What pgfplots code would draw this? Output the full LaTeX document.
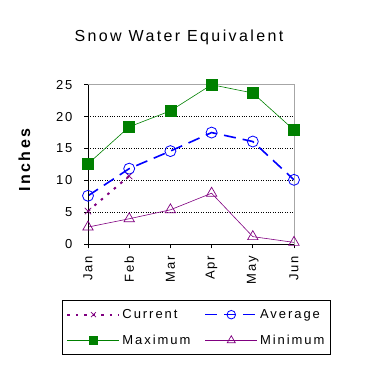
\documentclass[border=0pt]{standalone}
\usepackage{fontspec}
\setmainfont{Liberation Sans}[LetterSpace=15]
\usepackage{pgfplots}
\pgfplotsset{compat=1.18}
\definecolor{cgreen}{HTML}{008000}
\definecolor{cblue}{HTML}{0000FF}
\definecolor{cpurple}{HTML}{800080}
\begin{document}
\begin{tikzpicture}[x=1pt,y=1pt]
\useasboundingbox (0,0) rectangle (366,366);
\node[anchor=base,font=\fontsize{16}{18}\selectfont] at (179,324) {Snow Water Equivalent};
\node[anchor=base,rotate=90,font=\fontsize{16}{18}\selectfont\bfseries] at (30,206) {Inches};
\begin{axis}[
  at={(88pt,121.7pt)}, anchor=south west,
  scale only axis, width=206pt, height=159.6pt,
  xmin=0, xmax=5, ymin=0, ymax=25,
  xtick={0,1,2,3,4,5},
  xticklabels={Jan,Feb,Mar,Apr,May,Jun},
  ytick={0,5,10,15,20,25},
  /pgf/number format/assume math mode=true,
  tick label style={font=\fontsize{13}{15}\selectfont, black},
  xticklabel style={rotate=90, anchor=east},
  xticklabel shift=4pt, yticklabel shift=8pt,
  tick align=outside, major tick length=4pt,
  tick style={black, line width=0.6pt},
  xtick pos=bottom, ytick pos=left,
  axis line style={gray!70, line width=0.8pt},
  ymajorgrids, grid style={black, dotted, line width=0.6pt},
  legend columns=2,
  legend style={at={(-0.126,-0.349)}, anchor=north west, draw=black, line width=0.8pt,
    font=\fontsize{13}{15}\selectfont, row sep=11pt, inner xsep=4pt, inner ysep=7pt,
    /tikz/every even column/.append style={column sep=12pt}},
  legend cell align=left,
  legend image code/.code={\draw[mark repeat=2,mark phase=2,#1,every mark/.append style={scale=0.78}] plot coordinates {(0pt,0pt) (26pt,0pt) (52pt,0pt)};},
]
\addplot[cpurple, line width=2pt, dash pattern=on 2.5pt off 6pt, mark=x, mark size=4.5pt, mark options={solid, line width=0.7pt}]
  coordinates {(0,5.2) (1,10.7)};
\addlegendentry{Current}
\addplot[cblue, line width=1.6pt, dash pattern=on 12pt off 7pt, mark=o, mark size=5.5pt, mark options={solid, line width=0.8pt}]
  coordinates {(0,7.6) (1,11.85) (2,14.6) (3,17.5) (4,16.1) (5,10.1)};
\addlegendentry{Average}
\addplot[cgreen, line width=0.6pt, mark=square*, mark size=5.5pt, mark options={solid, fill=cgreen}]
  coordinates {(0,12.6) (1,18.4) (2,20.9) (3,25) (4,23.7) (5,17.9)};
\addlegendentry{Maximum}
\addplot[cpurple, line width=0.6pt, mark=triangle, mark size=6pt, mark options={solid, line width=0.7pt}]
  coordinates {(0,2.7) (1,4.0) (2,5.4) (3,8.0) (4,1.2) (5,0.3)};
\addlegendentry{Minimum}
\draw[black, line width=0.8pt] (rel axis cs:0,1) -- (rel axis cs:0,0) -- (rel axis cs:1,0);
\end{axis}
\end{tikzpicture}
\end{document}
